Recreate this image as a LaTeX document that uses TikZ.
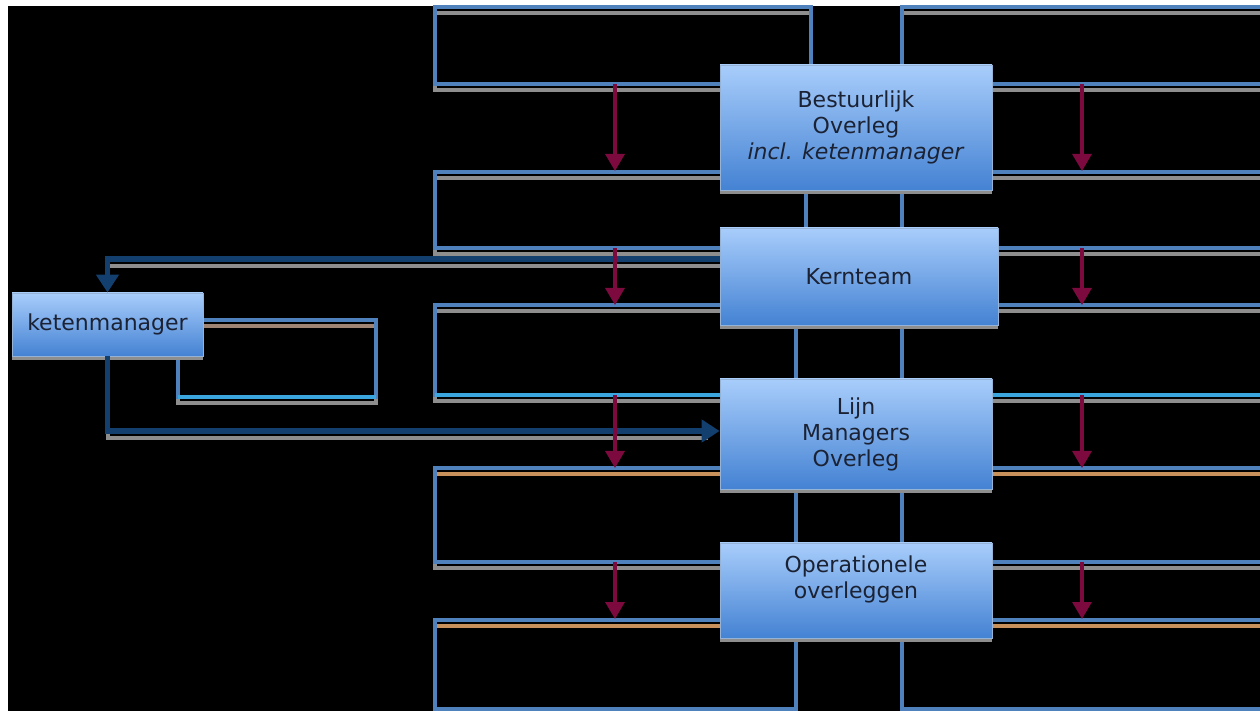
\documentclass[tikz,border=0pt]{standalone}
\usepackage{fontspec}
\setmainfont{DejaVu Sans}
\usepackage{tikz}
\usetikzlibrary{arrows.meta,shadows}
\definecolor{bandblue}{HTML}{4F81BD}
\definecolor{bandcyan}{HTML}{3AA6DD}
\definecolor{bandgray}{HTML}{8E8E8E}
\definecolor{bandorange}{HTML}{C8915C}
\definecolor{bandbrown}{HTML}{A08474}
\definecolor{boxtop}{HTML}{A8CDFB}
\definecolor{boxbottom}{HTML}{4482D3}
\definecolor{boxtext}{HTML}{1B2233}
\definecolor{linkblue}{HTML}{123F6E}
\definecolor{flowred}{HTML}{7D0A3E}

\begin{document}
\begin{tikzpicture}[x=0.5pt,y=-0.5pt,
    band/.style={draw=bandblue,line width=1.6pt},
    bandshadow/.style={draw=bandgray,line width=1.6pt,transform canvas={yshift=-3pt}},
    overleg/.style={draw=bandblue!60,thin,top color=boxtop,bottom color=boxbottom,
        text=boxtext,font=\fontsize{11}{13}\selectfont,align=center,inner sep=2pt,
        drop shadow={shadow xshift=0pt,shadow yshift=-1.8pt,fill=bandgray,opacity=1}},
    link/.style={draw=linkblue,line width=2.8pt,-{Triangle[width=11pt,length=9pt]}},
    linkshadow/.style={draw=bandgray,line width=2pt,shorten >=6pt,
        transform canvas={yshift=-3.5pt}},
    flow/.style={draw=flowred,line width=1.6pt,-{Triangle[width=9.5pt,length=8.5pt]}}]

    \clip (0,0) rectangle (1260,711);
    \fill[white] (0,0) rectangle (1260,711);
    \fill[black] (8,6) rectangle (1260,711);

    \foreach \ya/\yb/\xr/\sc in {7/84/811/bandgray, 172/248/806/bandgray,
        305/395/796/bandgray, 468/562/796/bandorange, 620/709/796/bandorange}{
        \draw[bandshadow] (435,\ya) rectangle (\xr,\yb) (902,\ya) rectangle (1275,\yb);
        \draw[bandshadow,draw=\sc] (435,\ya) -- (\xr,\ya) (902,\ya) -- (1275,\ya);
        \draw[band] (435,\ya) rectangle (\xr,\yb) (902,\ya) rectangle (1275,\yb);
    }
    \draw[band,draw=bandcyan] (435,395) -- (796,395) (902,395) -- (1275,395);

    \draw[bandshadow] (178,320) rectangle (376,397);
    \draw[bandshadow,draw=bandbrown] (178,320) -- (376,320);
    \draw[band] (178,320) rectangle (376,397);
    \draw[band,draw=bandcyan] (178,397) -- (376,397);

    \node[overleg,minimum width=136pt,minimum height=62.5pt] (best) at (856,127.5)
        {Bestuurlijk\\Overleg\\\textit{incl. ketenmanager}};
    \node[overleg,minimum width=139pt,minimum height=48.5pt] (kern) at (859,276.5) {Kernteam};
    \node[overleg,minimum width=136pt,minimum height=55pt] (lijn) at (856,434)
        {Lijn\\Managers\\Overleg};
    \node[overleg,minimum width=136pt,minimum height=47.5pt] (oper) at (856,590.5)
        {Operationele\\overleggen\\\mbox{}};
    \node[overleg,minimum width=95.5pt,minimum height=31.5pt] (keten) at (107.5,324.5)
        {ketenmanager};

    \draw[linkshadow] ([yshift=8.75pt]kern.west) -| (keten.north);
    \draw[link] ([yshift=8.75pt]kern.west) -| (keten.north);
    \draw[linkshadow] (keten.south) |- ([yshift=1.5pt]lijn.west);
    \draw[link] (keten.south) |- ([yshift=1.5pt]lijn.west);

    \foreach \x in {615,1082}
        \foreach \ya/\yb in {84/171,248/305,395/468,562/619}
            \draw[flow] (\x,\ya) -- (\x,\yb);

\end{tikzpicture}
\end{document}
